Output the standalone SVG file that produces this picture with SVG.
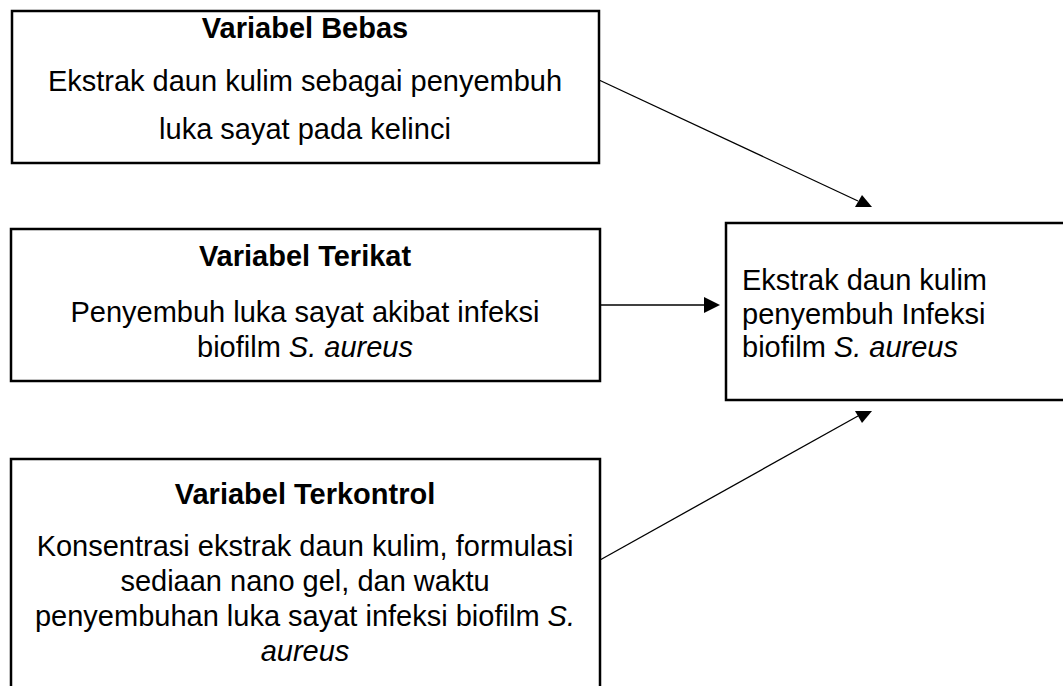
<svg xmlns="http://www.w3.org/2000/svg" width="1063" height="686" viewBox="0 0 1063 686">
<style>
.box{fill:#fff;stroke:#000;stroke-width:2.5}
.t{font-family:"Liberation Sans",Arial,sans-serif;font-size:29px;fill:#000}
.h{font-family:"Liberation Sans",Arial,sans-serif;font-size:29px;font-weight:bold;fill:#000}
.c{text-anchor:middle}
.ln{stroke:#000;stroke-width:1.3;fill:none}
.ah{fill:#000}
</style>
<rect width="1063" height="686" fill="#fff"/>
<g id="node-bebas">
<rect class="box" x="12" y="11" width="587" height="152"/>
<text class="h c" x="305" y="38">Variabel Bebas</text>
<text class="t c" x="305" y="91">Ekstrak daun kulim sebagai penyembuh</text>
<text class="t c" x="305" y="139">luka sayat pada kelinci</text>
</g>
<g id="node-terikat">
<rect class="box" x="11" y="229" width="589" height="152"/>
<text class="h c" x="305" y="266">Variabel Terikat</text>
<text class="t c" x="305" y="322">Penyembuh luka sayat akibat infeksi</text>
<text class="t c" x="305" y="357">biofilm <tspan font-style="italic">S. aureus</tspan></text>
</g>
<g id="node-terkontrol">
<rect class="box" x="11" y="459" width="589" height="240"/>
<text class="h c" x="305" y="504">Variabel Terkontrol</text>
<text class="t c" x="305" y="556">Konsentrasi ekstrak daun kulim, formulasi</text>
<text class="t c" x="305" y="591">sediaan nano gel, dan waktu</text>
<text class="t c" x="305" y="626">penyembuhan luka sayat infeksi biofilm <tspan font-style="italic">S.</tspan></text>
<text class="t c" x="305" y="661" font-style="italic">aureus</text>
</g>
<g id="node-hasil">
<rect class="box" x="726" y="223" width="350" height="177"/>
<text class="t" x="742" y="290">Ekstrak daun kulim</text>
<text class="t" x="742" y="324">penyembuh Infeksi</text>
<text class="t" x="742" y="357">biofilm <tspan font-style="italic">S. aureus</tspan></text>
</g>
<g id="connectors">
<line class="ln" x1="599" y1="80" x2="858" y2="201"/>
<polygon class="ah" points="855,207 872,207 862,195"/>
<line class="ln" x1="600" y1="305" x2="706" y2="305"/>
<polygon class="ah" points="704,297 720,305 704,313"/>
<line class="ln" x1="600" y1="560" x2="858" y2="416"/>
<polygon class="ah" points="855,411 872,411 862,423"/>
</g>
</svg>
